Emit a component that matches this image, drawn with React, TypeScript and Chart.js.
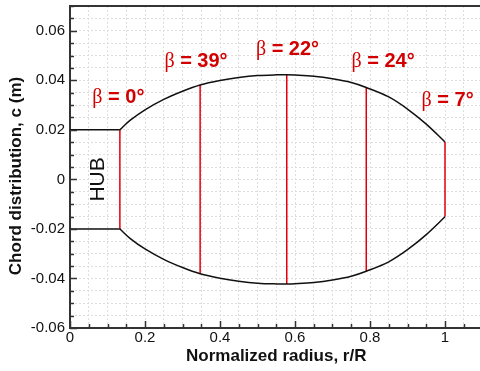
import React, { useEffect, useRef } from "react";
import { Chart, registerables } from "chart.js";

Chart.register(...registerables);

// Blade planform: normalized radius r/R and half chord c/2 (m)
const radius = [0.133, 0.16, 0.2, 0.25, 0.3, 0.347, 0.4, 0.45, 0.5, 0.55, 0.578, 0.6, 0.65, 0.7, 0.75, 0.79, 0.85, 0.9, 0.95, 1.0];
const halfChord = [0.02, 0.0238, 0.0281, 0.0323, 0.0356, 0.0381, 0.0399, 0.0411, 0.0419, 0.0422, 0.0422, 0.0421, 0.0416, 0.0406, 0.0391, 0.0371, 0.0333, 0.0284, 0.0223, 0.0151];

// Hub segment
const hubRadius = [0, 0.133];
const hubHalfChord = 0.02;

// Blade sections and their twist angles
const sectionRadius = [0.133, 0.347, 0.578, 0.79, 1.0];
const twistAngle = [0, 39, 22, 24, 7];

// Labelled tick values
const xTickValues = [0, 0.2, 0.4, 0.6, 0.8, 1];
const yTickValues = [-0.06, -0.04, -0.02, 0, 0.02, 0.04, 0.06];

const RED = "#e0000a";
const RED_TEXT = "#d20000";
const AXIS = "#333333";
const SANS = '"Liberation Sans", Arial, sans-serif';
const SERIF = '"Liberation Serif", "Times New Roman", serif';

const near = (a: number, b: number) => Math.abs(a - b) < 1e-7;
const fmt = (v: number) => (near(v, 0) ? "0" : String(Number(v.toFixed(3))));
const isListed = (v: number, list: number[]) => list.some((m) => near(m, v));

// Where each β label and the hub caption sit, in data units
const betaAnchors: [number, number][] = [
  [0.129, 0.0336],
  [0.336, 0.0482],
  [0.58, 0.0532],
  [0.835, 0.0482],
  [1.007, 0.0324],
];
const hubAnchor: [number, number] = [0.076, 0];

const overlay = {
  id: "bladeOverlay",
  afterDraw(chart: any) {
    const { ctx, chartArea: a, scales } = chart;
    const xs = scales.x;
    const ys = scales.y;
    ctx.save();

    // top frame line
    ctx.strokeStyle = AXIS;
    ctx.lineWidth = 2;
    ctx.beginPath();
    ctx.moveTo(a.left - 1, a.top);
    ctx.lineTo(a.right, a.top);
    ctx.stroke();

    // inward tick marks
    ctx.lineWidth = 1.5;
    ctx.beginPath();
    xs.ticks.forEach((t: any) => {
      const px = Math.round(xs.getPixelForValue(t.value)) + 0.5;
      const len = isListed(t.value, xTickValues) ? 7 : 4;
      ctx.moveTo(px, a.bottom);
      ctx.lineTo(px, a.bottom - len);
    });
    ys.ticks.forEach((t: any) => {
      const py = Math.round(ys.getPixelForValue(t.value)) + 0.5;
      const len = isListed(t.value, yTickValues) ? 7 : 4;
      ctx.moveTo(a.left, py);
      ctx.lineTo(a.left + len, py);
    });
    ctx.stroke();

    // β labels: serif beta followed by bold value
    ctx.fillStyle = RED_TEXT;
    ctx.textBaseline = "alphabetic";
    ctx.textAlign = "left";
    twistAngle.forEach((ang, i) => {
      const [r, c] = betaAnchors[i];
      const cx = xs.getPixelForValue(r);
      const cy = ys.getPixelForValue(c);
      const betaFont = `20px ${SERIF}`;
      const valFont = `bold 20px ${SANS}`;
      const rest = ` = ${ang}°`;
      ctx.font = betaFont;
      const wb = ctx.measureText("β").width;
      ctx.font = valFont;
      const wr = ctx.measureText(rest).width;
      const x0 = cx - (wb + wr) / 2;
      const base = cy + 7;
      ctx.font = betaFont;
      ctx.fillText("β", x0, base);
      ctx.font = valFont;
      ctx.fillText(rest, x0 + wb, base);
    });

    // hub caption
    ctx.fillStyle = "#111111";
    ctx.save();
    ctx.translate(xs.getPixelForValue(hubAnchor[0]), ys.getPixelForValue(hubAnchor[1]));
    ctx.rotate(-Math.PI / 2);
    ctx.font = `21px ${SANS}`;
    ctx.textAlign = "center";
    ctx.textBaseline = "middle";
    ctx.fillText("HUB", 0, 0);
    ctx.restore();

    // axis titles
    ctx.font = `bold 17px ${SANS}`;
    ctx.textAlign = "center";
    ctx.textBaseline = "middle";
    ctx.fillText("Normalized radius, r/R", (a.left + a.right) / 2, a.bottom + 28);
    ctx.save();
    ctx.translate(a.left - 54, (a.top + a.bottom) / 2 + 9);
    ctx.rotate(-Math.PI / 2);
    ctx.fillText("Chord distribution, c (m)", 0, 0);
    ctx.restore();

    ctx.restore();
  },
};

export default function App() {
  const ref = useRef<HTMLCanvasElement>(null);

  useEffect(() => {
    const upper = radius.map((r, i) => ({ x: r, y: halfChord[i] }));
    const lower = radius.map((r, i) => ({ x: r, y: -halfChord[i] }));
    const hubUpper = hubRadius.map((r) => ({ x: r, y: hubHalfChord }));
    const hubLower = hubRadius.map((r) => ({ x: r, y: -hubHalfChord }));

    const blackLine = {
      borderColor: "#111111",
      borderWidth: 1.5,
      pointRadius: 0,
      fill: false,
    };

    const sections = sectionRadius.map((r) => {
      const c = halfChord[radius.findIndex((v) => near(v, r))];
      return {
        data: [
          { x: r, y: c },
          { x: r, y: -c },
        ],
        borderColor: RED,
        borderWidth: 1.5,
        pointRadius: 0,
        fill: false,
      };
    });

    const chart = new Chart(ref.current as HTMLCanvasElement, {
      type: "line",
      data: {
        datasets: [
          { ...blackLine, data: upper, tension: 0.35 },
          { ...blackLine, data: lower, tension: 0.35 },
          { ...blackLine, data: hubUpper },
          { ...blackLine, data: hubLower },
          ...sections,
        ] as any,
      },
      options: {
        animation: false,
        responsive: false,
        devicePixelRatio: 1,
        events: [],
        parsing: false,
        layout: { padding: { left: 0, top: 6, right: 7.5, bottom: 0 } },
        plugins: {
          legend: { display: false },
          tooltip: { enabled: false },
        },
        scales: {
          x: {
            type: "linear",
            min: 0,
            max: 1.1,
            grid: { color: "#dedede", lineWidth: 1, drawTicks: false },
            border: { display: true, color: AXIS, width: 2, dash: [2, 2] },
            ticks: {
              stepSize: 0.05,
              autoSkip: false,
              maxRotation: 0,
              padding: 1,
              color: "#111111",
              font: { family: SANS, size: 15 },
              callback: (v: any) => (isListed(Number(v), xTickValues) ? fmt(Number(v)) : ""),
            },
            afterFit: (s: any) => {
              s.height = 43;
              s.paddingLeft = 0;
              s.paddingRight = 0;
            },
          },
          y: {
            type: "linear",
            min: -0.06,
            max: 0.07,
            grid: { color: "#dedede", lineWidth: 1, drawTicks: false },
            border: { display: true, color: AXIS, width: 2, dash: [2, 2] },
            ticks: {
              stepSize: 0.005,
              autoSkip: false,
              padding: 5,
              color: "#111111",
              font: { family: SANS, size: 15 },
              callback: (v: any) => (isListed(Number(v), yTickValues) ? fmt(Number(v)) : ""),
            },
            afterFit: (s: any) => {
              s.width = 70;
              s.paddingTop = 0;
              s.paddingBottom = 0;
            },
          },
        },
      } as any,
      plugins: [overlay],
    });

    return () => chart.destroy();
  }, []);

  return (
    <div
      style={{
        position: "fixed",
        left: 0,
        top: 0,
        width: 480,
        height: 371,
        overflow: "hidden",
        background: "#ffffff",
      }}
    >
      <canvas ref={ref} width={490} height={371} style={{ display: "block", width: 490, height: 371 }} />
    </div>
  );
}
